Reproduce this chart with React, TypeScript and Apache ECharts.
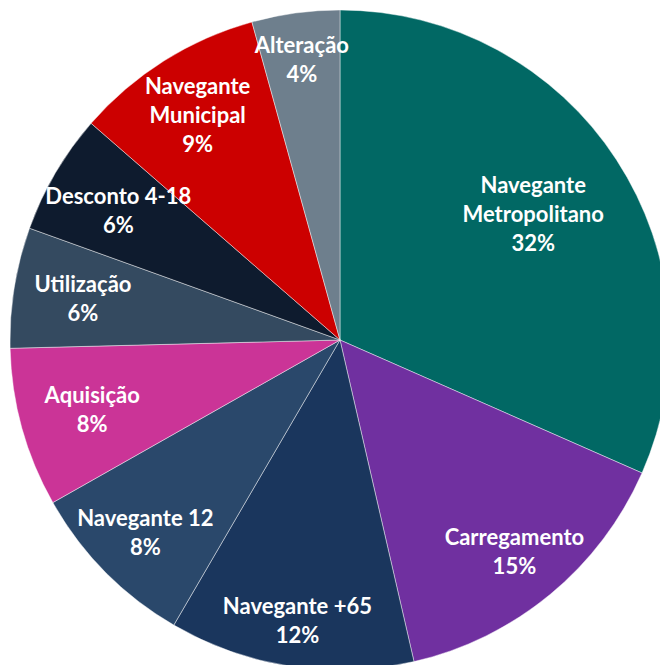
import React, { useEffect, useRef } from "react";
import * as echarts from "echarts";

const categories = [
  "Navegante Metropolitano",
  "Carregamento",
  "Navegante +65",
  "Navegante 12",
  "Aquisição",
  "Utilização",
  "Desconto 4-18",
  "Navegante Municipal",
  "Alteração",
];
const values = [31.6, 14.8, 12.0, 8.4, 7.8, 5.9, 5.9, 9.3, 4.3];
const colors = [
  "#016864",
  "#7030A0",
  "#1A365D",
  "#2A486B",
  "#CB3497",
  "#344A60",
  "#0E1B2E",
  "#CC0000",
  "#6E7F8D",
];
const wrappedNames = ["Navegante Metropolitano", "Navegante Municipal"];
// label ring (fraction of radius) for each slice
const labelRing = [0.69, 0.82, 0.85, 0.82, 0.77, 0.78, 0.77, 0.8, 0.85];

export default function App() {
  const ref = useRef<HTMLDivElement>(null);
  useEffect(() => {
    if (!ref.current) return;
    const chart = echarts.init(ref.current, null, { renderer: "svg" });
    const R = 330;
    const center = [340, 340];
    const data = categories.map((name, i) => ({
      name,
      value: values[i],
      itemStyle: { color: colors[i] },
    }));
    const labelStyle = {
      show: true,
      position: "inside",
      color: "#ffffff",
      fontFamily: "Lato, 'Open Sans', sans-serif",
      fontWeight: "bold",
      fontSize: 22,
      lineHeight: 29,
      align: "center",
      formatter: (p: any) =>
        (wrappedNames.includes(p.name) ? p.name.replace(" ", "\n") : p.name) +
        "\n" +
        Math.round(p.percent) +
        "%",
    };
    const rings = Array.from(new Set(labelRing));
    const overlays = rings.map((f) => ({
      type: "pie",
      silent: true,
      center,
      radius: [R * f - 1, R * f + 1],
      startAngle: 90,
      clockwise: true,
      percentPrecision: 0,
      labelLine: { show: false },
      emphasis: { disabled: true },
      itemStyle: { color: "transparent", borderWidth: 0 },
      data: categories.map((name, i) => ({
        name,
        value: values[i],
        label: labelRing[i] === f ? labelStyle : { show: false },
      })),
    }));
    chart.setOption({
      animation: false,
      series: [
        {
          type: "pie",
          center,
          radius: [0, R],
          startAngle: 90,
          clockwise: true,
          silent: true,
          label: { show: false },
          labelLine: { show: false },
          itemStyle: { borderColor: "rgba(255,255,255,0.55)", borderWidth: 0.8 },
          data,
        },
        ...overlays,
      ],
    });
    return () => chart.dispose();
  }, []);
  return (
    <div
      ref={ref}
      style={{ position: "absolute", left: 0, top: 0, width: 660, height: 665 }}
    />
  );
}
